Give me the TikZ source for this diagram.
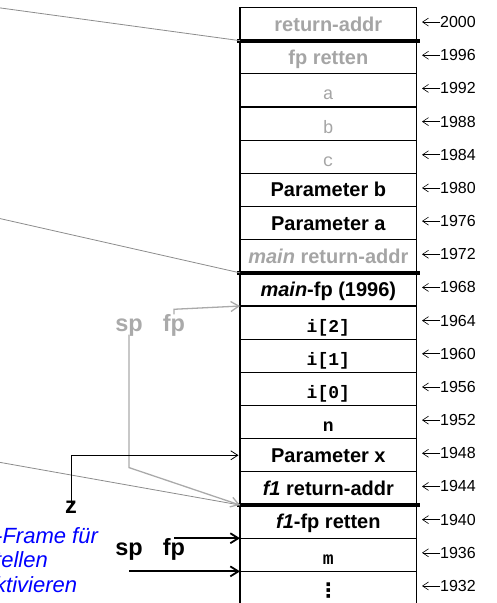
\documentclass[tikz,border=0pt]{standalone}
\usepackage{fontspec}
\setmainfont{Liberation Sans}
\setmonofont{Liberation Mono}
\newfontfamily\symfont{DejaVu Sans}
\usetikzlibrary{arrows.meta}
\definecolor{greytext}{RGB}{165,165,165}
\definecolor{greyarrow}{RGB}{170,170,170}
\definecolor{greyline}{RGB}{140,140,140}
\begin{document}
\begin{tikzpicture}[x=1pt,y=-1pt,
  cell/.style={draw, line width=1.2pt, minimum width=176.7pt, minimum height=33.17pt,
    inner sep=0pt, outer sep=0pt, anchor=north, text height=18pt, text depth=4pt,
    font=\fontsize{20}{24}\selectfont\bfseries},
  monocell/.style={cell, text height=23pt, text depth=4pt,
    font=\fontsize{18}{22}\selectfont\ttfamily\bfseries},
  greymono/.style={monocell, text=greytext,
    font=\fontsize{18}{22}\selectfont\ttfamily\mdseries},
  greycell/.style={text=greytext},
  addr/.style={anchor=base west, inner sep=0pt, font=\fontsize{16}{19}\selectfont},
  addrarrow/.style={-{Straight Barb[length=6pt,width=8pt]}, line width=0.6pt},
  thickbar/.style={line width=4pt},
  leftline/.style={draw=greyline, line width=0.8pt},
  greyptr/.style={draw=greyarrow, line width=1.3pt, -{Straight Barb[length=8pt,width=10pt]}},
  blackptr/.style={line width=1.8pt, -{Straight Barb[length=8pt,width=10pt]}},
  zptr/.style={line width=0.8pt, -{Straight Barb[length=7pt,width=9pt]}, shorten >=1.5pt},
  reglabel/.style={inner sep=0pt, anchor=base, font=\fontsize{23.5}{27}\selectfont\bfseries},
  bluetext/.style={inner sep=0pt, anchor=north west, align=left, text=blue,
    font=\fontsize{22}{24.5}\selectfont\itshape}
]
\useasboundingbox (0,0) rectangle (497,603);

% stack cells
\node[cell, greycell] (r0) at (328.35, 7.5) {return-addr};
\node[cell, greycell] (r1) at (328.35, 40.67) {fp retten};
\node[greymono] (r2) at (328.35, 73.84) {a};
\node[greymono] (r3) at (328.35, 107.01) {b};
\node[greymono] (r4) at (328.35, 140.18) {c};
\node[cell] (r5) at (328.35, 173.35) {Parameter b};
\node[cell] (r6) at (328.35, 206.52) {Parameter a};
\node[cell, greycell] (r7) at (328.35, 239.69) {\textit{main} return-addr};
\node[cell] (r8) at (328.35, 272.86) {\textit{main}-fp (1996)};
\node[monocell] (r9) at (328.35, 306.03) {i[2]};
\node[monocell] (r10) at (328.35, 339.2) {i[1]};
\node[monocell] (r11) at (328.35, 372.37) {i[0]};
\node[monocell] (r12) at (328.35, 405.54) {n};
\node[cell] (r13) at (328.35, 438.71) {Parameter x};
\node[cell] (r14) at (328.35, 471.88) {\textit{f1} return-addr};
\node[cell] (r15) at (328.35, 505.05) {\textit{f1}-fp retten};
\node[monocell] (r16) at (328.35, 538.22) {m};
\node[cell, text height=20pt, text depth=0pt, font=\fontsize{20}{24}\selectfont\symfont\bfseries] (r17) at (328.35, 571.39) {⋮};

% frame separators
\draw[thickbar] ([xshift=-3pt]r1.north west) -- ([xshift=3pt]r1.north east);
\draw[thickbar] ([xshift=-3pt]r8.north west) -- ([xshift=3pt]r8.north east);
\draw[thickbar] ([xshift=-3pt]r15.north west) -- ([xshift=3pt]r15.north east);

% addresses
\foreach \i in {0,...,17} {
  \pgfmathsetmacro\ad{int(2000-4*\i)}
  \node[addr] (a\i) at (440, {7.5+33.17*\i+16.585+3.5}) {\ad};
  \draw[addrarrow] (a\i.west) -- ++(-18,0);
}

% lines from the left
\coordinate (L1) at (-60, -0.3);
\coordinate (L2) at (-60, 205);
\coordinate (L3) at (-60, 451.7);
\draw[leftline] (L1) -- (r1.north west);
\draw[leftline] (L2) -- (r8.north west);
\draw[leftline] (L3) -- (r15.north west);

% old sp / fp (grey)
\node[reglabel, text=greyarrow] (gsp) at (129, 331.5) {sp};
\node[reglabel, text=greyarrow] (gfp) at (174, 331.5) {fp};
\draw[greyptr] ([yshift=2pt]gsp.south) -- ++(0,133) -- (r15.north west);
\draw[greyptr] (gfp.north) -- ++(0,-5) -- (r9.north west);

% z
\node[reglabel] (z) at (71, 513) {z};
\draw[zptr] ([yshift=-7pt]z.north) |- (r13.west);

% new sp / fp (black)
\node[reglabel] (bsp) at (129, 555) {sp};
\node[reglabel] (bfp) at (174, 555) {fp};
\draw[blackptr] (bfp.north |- r16.north west) -- (r16.north west);
\draw[blackptr] (bsp.south |- r17.north west) -- (r17.north west);

% note
\node[bluetext] (note) at (-60, 527) {Stack-Frame für\\f1 erstellen\\und aktivieren};
\end{tikzpicture}
\end{document}
